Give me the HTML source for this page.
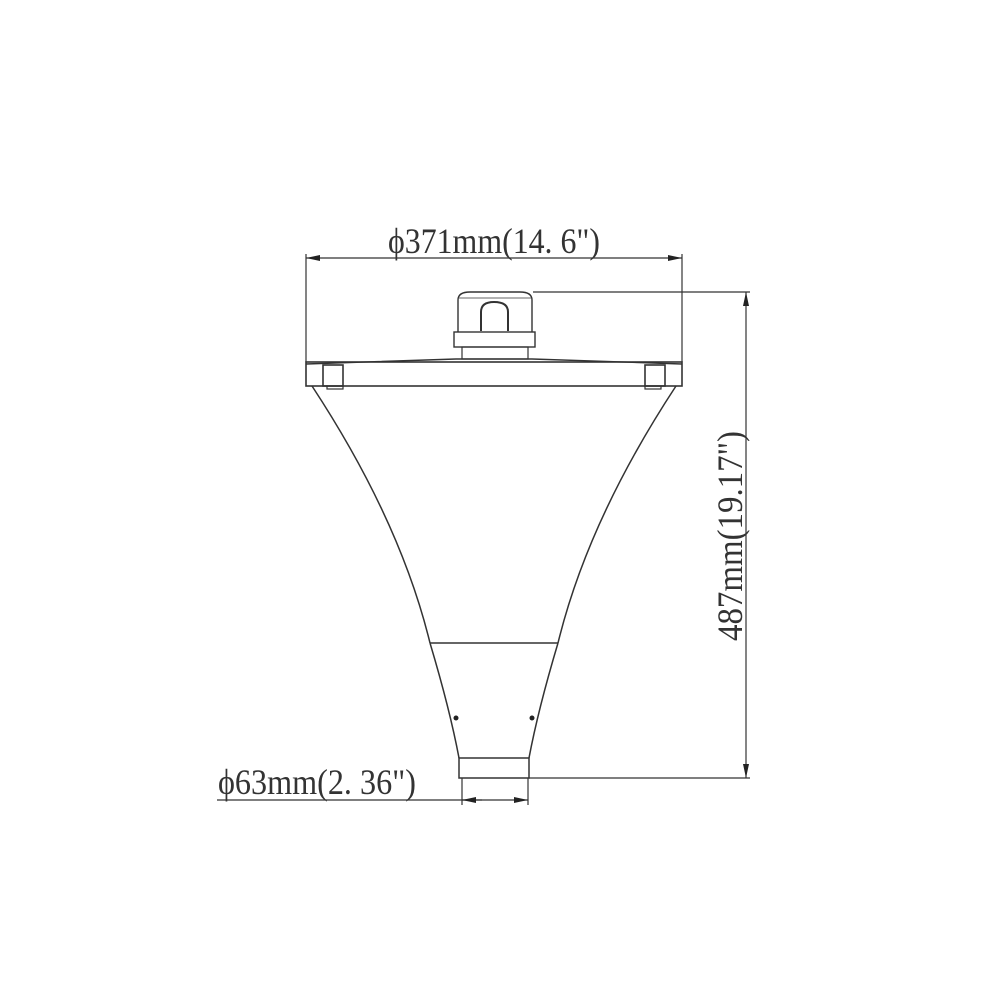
<!DOCTYPE html>
<html><head><style>
body{margin:0;background:#fff}
svg text{font-family:"Liberation Serif",serif;fill:#333}
</style></head><body>
<svg width="1000" height="1000" viewBox="0 0 1000 1000" xmlns="http://www.w3.org/2000/svg">
<defs>
<marker id="a" markerWidth="14" markerHeight="6" refX="14" refY="3" orient="auto" markerUnits="userSpaceOnUse"><path d="M0,0 L14,3 L0,6z" fill="#222"/></marker>
</defs>
<g stroke="#333" stroke-width="1.2" fill="none">
<line x1="306" y1="254" x2="306" y2="362"/>
<line x1="682" y1="254" x2="682" y2="362"/>
<line x1="340" y1="258" x2="306" y2="258" marker-end="url(#a)"/>
<line x1="648" y1="258" x2="682" y2="258" marker-end="url(#a)"/>
<line x1="340" y1="258" x2="648" y2="258"/>
<rect x="306" y="362" width="376" height="24" stroke-width="1.6"/>
<path d="M306,364 L456,359 L532,359 L682,364" stroke-width="1.4"/>
<rect x="323" y="365" width="20" height="21" stroke-width="1.6"/>
<rect x="327" y="386" width="16" height="3"/>
<rect x="645" y="365" width="20" height="21" stroke-width="1.6"/>
<rect x="645" y="386" width="16" height="3"/>
<path d="M458,332 L458,300 Q458,292 470,292 L520,292 Q532,292 532,300 L532,332" stroke-width="1.4"/>
<line x1="459" y1="298" x2="531" y2="298" stroke-width="0.8"/>
<path d="M481,331 L481,312 Q481,302 494,302 Q508,302 508,312 L508,331" stroke-width="2"/>
<rect x="454" y="332" width="81" height="15" stroke-width="1.4"/>
<rect x="462" y="347" width="66" height="12" stroke-width="1.2"/>
<path d="M312,386 Q400,520 430,643" stroke-width="1.5"/>
<path d="M676,386 Q588,520 558,643" stroke-width="1.5"/>
<line x1="430" y1="643" x2="558" y2="643" stroke-width="1.6"/>
<path d="M430,643 Q450,710 459,758" stroke-width="1.5"/>
<path d="M558,643 Q538,710 529,758" stroke-width="1.5"/>
<rect x="459" y="758" width="70" height="20" stroke-width="1.5"/>
<line x1="462" y1="778" x2="462" y2="805"/>
<line x1="528" y1="778" x2="528" y2="805"/>
<line x1="217" y1="800" x2="482" y2="800"/>
<line x1="482" y1="800" x2="462" y2="800" marker-end="url(#a)"/>
<line x1="508" y1="800" x2="528" y2="800" marker-end="url(#a)"/>
<line x1="482" y1="800" x2="508" y2="800"/>
<line x1="533" y1="292" x2="750" y2="292"/>
<line x1="529" y1="778" x2="750" y2="778"/>
<line x1="746" y1="330" x2="746" y2="292" marker-end="url(#a)"/>
<line x1="746" y1="740" x2="746" y2="778" marker-end="url(#a)"/>
<line x1="746" y1="330" x2="746" y2="740"/>
</g>
<circle cx="456" cy="718" r="2.5" fill="#222"/>
<circle cx="532" cy="718" r="2.5" fill="#222"/>
<text x="388" y="253" font-size="36" textLength="212" lengthAdjust="spacingAndGlyphs">ϕ371mm(14. 6")</text>
<text x="218" y="794" font-size="36" textLength="198" lengthAdjust="spacingAndGlyphs">ϕ63mm(2. 36")</text>
<text transform="translate(742,641) rotate(-90)" font-size="36" textLength="210" lengthAdjust="spacingAndGlyphs">487mm(19.17")</text>
</svg>
</body></html>
